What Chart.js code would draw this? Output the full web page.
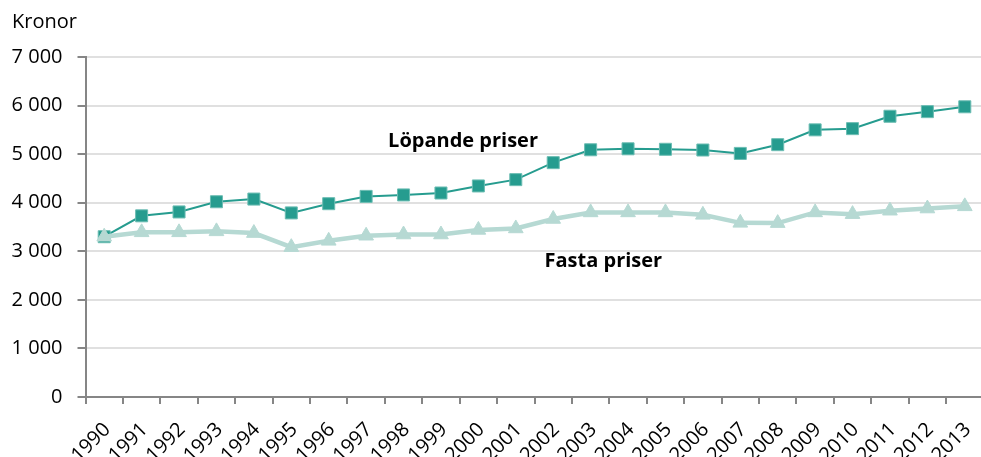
<!DOCTYPE html>
<html><head><meta charset="utf-8">
<script src="https://cdn.jsdelivr.net/npm/chart.js@4/dist/chart.umd.min.js"></script>
<style>
html,body{margin:0;padding:0;background:#fff;overflow:hidden;width:981px;height:457px;}
#wrap{position:absolute;left:0;top:0;width:993px;height:457px;}
</style></head><body>
<div id="wrap"><canvas id="c"></canvas></div>
<script>
const years = ['1990','1991','1992','1993','1994','1995','1996','1997','1998','1999','2000','2001','2002','2003','2004','2005','2006','2007','2008','2009','2010','2011','2012','2013'];
const lopandePriser = [3300,3730,3810,4020,4075,3790,3980,4130,4160,4200,4345,4475,4825,5090,5110,5100,5085,5015,5195,5500,5525,5780,5875,5975];
const fastaPriser = [3300,3390,3390,3410,3375,3085,3215,3320,3345,3345,3440,3470,3665,3800,3800,3800,3750,3585,3580,3800,3765,3835,3880,3925];
const yTicks = [0,1000,2000,3000,4000,5000,6000,7000];
const unitLabel = 'Kronor';
const seriesNames = ['Löpande priser','Fasta priser'];
const seriesLabelAnchors = [[9.59, 5264],[13.34, 2790]];

const FONT = '"Open Sans", sans-serif';
const fmt = v => String(v).replace(/\B(?=(\d{3})+(?!\d))/g, ' ');

const textPlugin = {
  id: 'texts',
  afterDatasetsDraw(chart) {
    const ctx = chart.ctx, xs = chart.scales.x, ys = chart.scales.y;
    ctx.save();
    ctx.fillStyle = '#000';
    ctx.textBaseline = 'middle';
    ctx.font = '20px ' + FONT;
    ctx.textAlign = 'left';
    ctx.fillText(unitLabel, 12, 22);
    ctx.font = 'bold 20px ' + FONT;
    ctx.textAlign = 'center';
    seriesNames.forEach((n, i) => {
      const [idx, val] = seriesLabelAnchors[i];
      ctx.fillText(n, xs.getPixelForValue(idx), ys.getPixelForValue(val));
    });
    ctx.restore();
  }
};

new Chart(document.getElementById('c'), {
  type: 'line',
  data: {
    labels: years,
    datasets: [
      {
        label: seriesNames[1], data: fastaPriser, order: 0,
        borderColor: '#b6d9d3', backgroundColor: '#b6d9d3', borderWidth: 4.5,
        pointStyle: 'triangle', pointRadius: 8.5, pointBackgroundColor: '#b6d9d3',
        pointBorderColor: '#b6d9d3', pointBorderWidth: 1, tension: 0
      },
      {
        label: seriesNames[0], data: lopandePriser, order: 1,
        borderColor: '#269c8f', backgroundColor: '#269c8f', borderWidth: 2,
        pointStyle: 'rect', pointRadius: 8.5, pointBackgroundColor: '#269c8f',
        pointBorderColor: '#6cbdb3', pointBorderWidth: 1, tension: 0
      }
    ]
  },
  options: {
    responsive: true, maintainAspectRatio: false, animation: false,
    layout: { padding: { top: 57, left: 0, right: 0, bottom: 0 } },
    plugins: { legend: { display: false }, tooltip: { enabled: false }, title: { display: false } },
    scales: {
      x: {
        type: 'category', offset: true,
        grid: { offset: true, drawOnChartArea: false, drawTicks: true, tickLength: 7, tickColor: '#868686', lineWidth: 2 },
        border: { color: '#868686', width: 2 },
        ticks: { color: '#000', font: { family: FONT, size: 20 }, minRotation: 45, maxRotation: 45, autoSkip: false, padding: 14, labelOffset: 3 },
        afterFit(s) { s.height = 60; s.paddingLeft = 0; s.paddingRight = 0; }
      },
      y: {
        min: 0, max: 7000,
        afterBuildTicks(s) { s.ticks = yTicks.map(v => ({ value: v })); },
        grid: { color: '#e0e0e0', lineWidth: 2, tickColor: '#868686', tickLength: 8 },
        border: { color: '#868686', width: 2 },
        ticks: { color: '#000', font: { family: FONT, size: 20 }, padding: 15, callback: v => fmt(v) },
        afterFit(s) { s.width = 85.5; }
      }
    }
  },
  plugins: [textPlugin]
});
</script>
</body></html>
